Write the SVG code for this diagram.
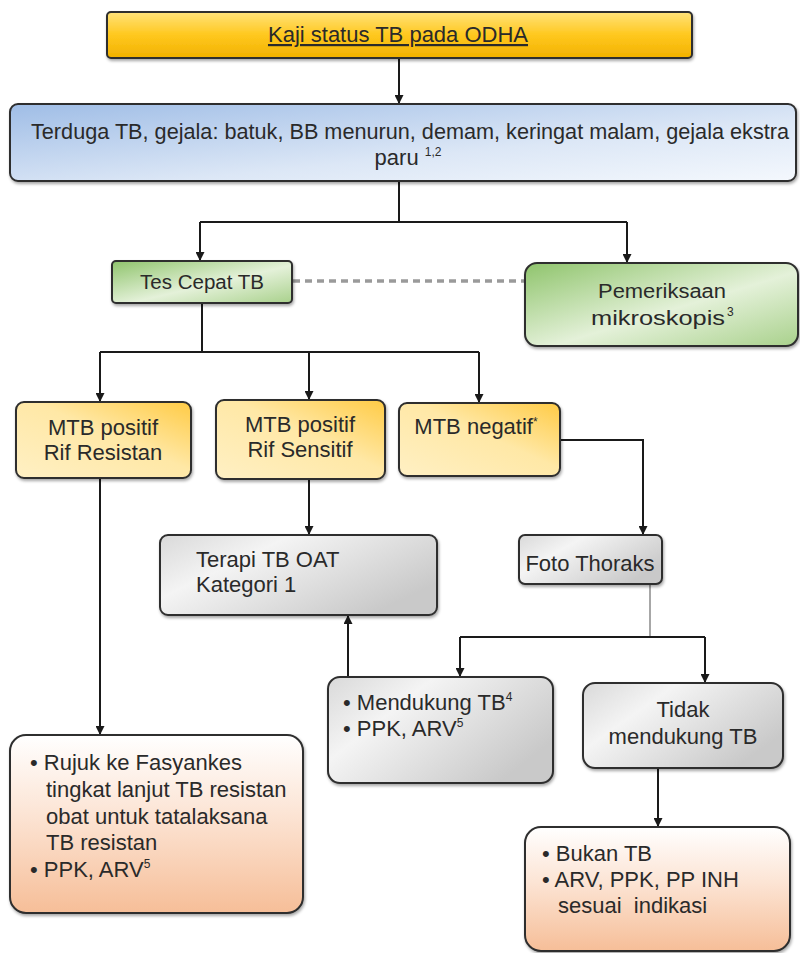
<svg xmlns="http://www.w3.org/2000/svg" width="800" height="953" viewBox="0 0 800 953">
<defs>
  <linearGradient id="gTop" x1="0" y1="0" x2="0" y2="1">
    <stop offset="0" stop-color="#FFE27A"/>
    <stop offset="0.5" stop-color="#FFC81E"/>
    <stop offset="1" stop-color="#F2B100"/>
  </linearGradient>
  <linearGradient id="gBlue" x1="0" y1="0" x2="1" y2="1">
    <stop offset="0" stop-color="#9FBDE6"/>
    <stop offset="0.6" stop-color="#DCE7F6"/>
    <stop offset="1" stop-color="#F4F8FD"/>
  </linearGradient>
  <linearGradient id="gGreen" x1="0" y1="0" x2="1" y2="1">
    <stop offset="0" stop-color="#8FC46C"/>
    <stop offset="0.55" stop-color="#E4F1D9"/>
    <stop offset="1" stop-color="#A9D18C"/>
  </linearGradient>
  <linearGradient id="gYel" x1="0" y1="1" x2="1" y2="0">
    <stop offset="0" stop-color="#FFF0C4"/>
    <stop offset="0.55" stop-color="#FFE8A6"/>
    <stop offset="1" stop-color="#FFCB45"/>
  </linearGradient>
  <linearGradient id="gGray" x1="0" y1="0" x2="1" y2="0.6">
    <stop offset="0" stop-color="#D9D9D9"/>
    <stop offset="0.35" stop-color="#F4F4F4"/>
    <stop offset="1" stop-color="#C9C9C9"/>
  </linearGradient>
  <linearGradient id="gPeach" x1="0" y1="0" x2="0" y2="1">
    <stop offset="0" stop-color="#FFFFFF"/>
    <stop offset="0.45" stop-color="#FCE4D4"/>
    <stop offset="1" stop-color="#F6BE98"/>
  </linearGradient>
  <filter id="sh" x="-5%" y="-10%" width="110%" height="125%">
    <feDropShadow dx="1" dy="2" stdDeviation="1.5" flood-color="#000" flood-opacity="0.35"/>
  </filter>
  <marker id="arr" viewBox="0 0 10 10" refX="10" refY="5" markerWidth="9" markerHeight="9" markerUnits="userSpaceOnUse" orient="auto">
    <path d="M0,0 L10,5 L0,10 z" fill="#1a1a1a"/>
  </marker>
</defs>
<style>
  .box { stroke: #2e2e2e; stroke-width: 2; filter: url(#sh); }
  .t { font-family: "Liberation Sans", Arial, sans-serif; font-size: 22px; fill: #2a2a2a; }
  .c { text-anchor: middle; }
  .n { font-size: 20px; }
  .sup { font-size: 12px; }
  .ln { fill: none; stroke: #1a1a1a; stroke-width: 2; }
  .ar { marker-end: url(#arr); }
</style>

<g id="connectors">
  <path class="ln ar" d="M399,58 V104"/>
  <path class="ln" d="M399,181 V222 M200,222 H627"/>
  <path class="ln ar" d="M200,222 V261"/>
  <path class="ln ar" d="M627,222 V263"/>
  <path d="M293,281 H525" fill="none" stroke="#9a9a9a" stroke-width="3.5" stroke-dasharray="7,5"/>
  <path class="ln" d="M202,303 V352 M100,352 H479"/>
  <path class="ln ar" d="M100,352 V402"/>
  <path class="ln ar" d="M309,352 V400"/>
  <path class="ln ar" d="M479,352 V403"/>
  <path class="ln ar" d="M560,440 H643 V535"/>
  <path class="ln ar" d="M309,479 V535"/>
  <path class="ln ar" d="M100,478 V735"/>
  <path d="M650,584 V637" fill="none" stroke="#8a8a8a" stroke-width="1.5"/>
  <path class="ln" d="M460,637 H705"/>
  <path class="ln ar" d="M460,637 V677"/>
  <path class="ln ar" d="M705,637 V683"/>
  <path class="ln ar" d="M348,677 V615"/>
  <path class="ln ar" d="M658,768 V827"/>
</g>

<g id="node-kaji">
  <rect class="box" x="107" y="12" width="585" height="46" rx="4" fill="url(#gTop)" stroke="#a88200"/>
  <text class="t c" x="398" y="42" text-decoration="underline" fill="#1a1a1a">Kaji status TB pada ODHA</text>
</g>

<g id="node-terduga">
  <rect class="box" x="10" y="104" width="786" height="77" rx="8" fill="url(#gBlue)"/>
  <text class="t c" x="410" y="139" font-size="21.4" textLength="758" lengthAdjust="spacingAndGlyphs">Terduga TB, gejala: batuk, BB menurun, demam, keringat malam, gejala ekstra</text>
  <text class="t c" x="408" y="165" font-size="21.4">paru <tspan class="sup" dy="-9">1,2</tspan></text>
</g>

<g id="node-tescepat">
  <rect class="box" x="112" y="261" width="180" height="42" rx="4" fill="url(#gGreen)"/>
  <text class="t c n" x="202" y="289" textLength="124" lengthAdjust="spacingAndGlyphs">Tes Cepat TB</text>
</g>

<g id="node-mikroskopis">
  <rect class="box" x="525" y="263" width="273" height="83" rx="12" fill="url(#gGreen)"/>
  <text class="t c n" x="662" y="298" textLength="128" lengthAdjust="spacingAndGlyphs">Pemeriksaan</text>
  <text class="t c n" x="658" y="325" textLength="134" lengthAdjust="spacingAndGlyphs">mikroskopis</text>
  <text class="t sup" x="727" y="316">3</text>
</g>

<g id="node-resistan">
  <rect class="box" x="16" y="402" width="175" height="76" rx="8" fill="url(#gYel)"/>
  <text class="t c" x="103" y="435">MTB positif</text>
  <text class="t c" x="103" y="460">Rif Resistan</text>
</g>

<g id="node-sensitif">
  <rect class="box" x="216" y="400" width="169" height="79" rx="8" fill="url(#gYel)"/>
  <text class="t c" x="300" y="432">MTB positif</text>
  <text class="t c" x="300" y="457">Rif Sensitif</text>
</g>

<g id="node-negatif">
  <rect class="box" x="399" y="403" width="161" height="73" rx="8" fill="url(#gYel)"/>
  <text class="t c" x="476" y="434">MTB negatif<tspan class="sup" dy="-8">*</tspan></text>
</g>

<g id="node-terapi">
  <rect class="box" x="160" y="535" width="277" height="80" rx="8" fill="url(#gGray)"/>
  <text class="t" x="196" y="567">Terapi TB OAT</text>
  <text class="t" x="196" y="592">Kategori 1</text>
</g>

<g id="node-foto">
  <rect class="box" x="519" y="535" width="143" height="49" rx="6" fill="url(#gGray)"/>
  <text class="t c" x="590" y="571">Foto Thoraks</text>
</g>

<g id="node-mendukung">
  <rect class="box" x="328" y="677" width="225" height="106" rx="12" fill="url(#gGray)"/>
  <text class="t" x="343" y="710">• Mendukung TB<tspan class="sup" dy="-9">4</tspan></text>
  <text class="t" x="343" y="736">• PPK, ARV<tspan class="sup" dy="-9">5</tspan></text>
</g>

<g id="node-tidak">
  <rect class="box" x="583" y="683" width="200" height="85" rx="12" fill="url(#gGray)"/>
  <text class="t c" x="683" y="717">Tidak</text>
  <text class="t c" x="683" y="744">mendukung TB</text>
</g>

<g id="node-rujuk">
  <rect class="box" x="10" y="735" width="293" height="178" rx="16" fill="url(#gPeach)"/>
  <text class="t" x="30" y="770">• Rujuk ke Fasyankes</text>
  <text class="t" x="46" y="797">tingkat lanjut TB resistan</text>
  <text class="t" x="46" y="824">obat untuk tatalaksana</text>
  <text class="t" x="46" y="850">TB resistan</text>
  <text class="t" x="30" y="877">• PPK, ARV<tspan class="sup" dy="-9">5</tspan></text>
</g>

<g id="node-bukan">
  <rect class="box" x="525" y="827" width="265" height="124" rx="16" fill="url(#gPeach)"/>
  <text class="t" x="542" y="861">• Bukan TB</text>
  <text class="t" x="542" y="887">• ARV, PPK, PP INH</text>
  <text class="t" x="558" y="913" xml:space="preserve">sesuai  indikasi</text>
</g>
</svg>
